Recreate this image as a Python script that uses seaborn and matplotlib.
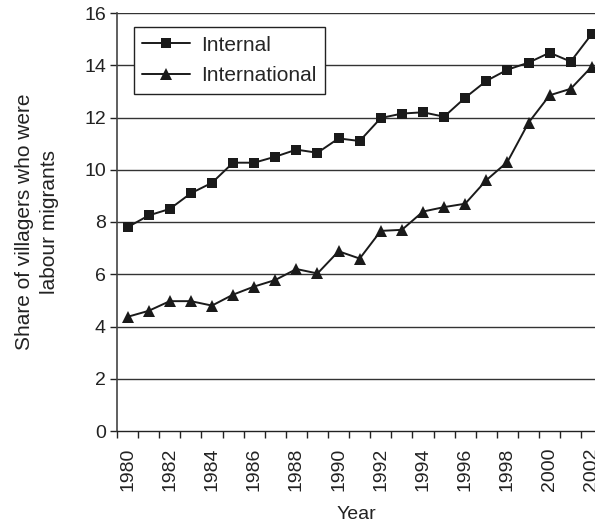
import pandas as pd
import seaborn as sns
import matplotlib.pyplot as plt
from matplotlib.ticker import MultipleLocator

# data
years = list(range(1980, 2003))
internal = [7.8, 8.25, 8.5, 9.1, 9.5, 10.27, 10.27, 10.5, 10.77, 10.65, 11.2, 11.1,
            11.98, 12.15, 12.2, 12.03, 12.76, 13.4, 13.83, 14.1, 14.48, 14.14, 15.2]
international = [4.37, 4.6, 4.97, 4.97, 4.8, 5.22, 5.53, 5.78, 6.2, 6.03, 6.88, 6.6,
                 7.66, 7.7, 8.4, 8.57, 8.7, 9.6, 10.3, 11.8, 12.85, 13.1, 13.95]
ytick_vals = list(range(0, 17, 2))
xtick_labels = [str(y) for y in range(1980, 2003, 2)]

df = pd.DataFrame({'year': years, 'Internal': internal, 'International': international})

sns.set_style('white')
plt.rcParams['font.family'] = ['Liberation Sans', 'DejaVu Sans']
fs = 14

fig = plt.figure(figsize=(5.95, 5.26), dpi=100)
ax = fig.add_axes([117/595, 95/526, 478/595, 418/526])

sns.lineplot(data=df, x='year', y='Internal', ax=ax, color='#1a1a1a', marker='s',
             markersize=7.5, linewidth=1.4, markeredgewidth=0, label='Internal', clip_on=False)
sns.lineplot(data=df, x='year', y='International', ax=ax, color='#1a1a1a', marker='^',
             markersize=9, linewidth=1.4, markeredgewidth=0, label='International', clip_on=False)

ax.set_xlim(1979.5, 2002.15)
ax.set_ylim(0, 16)
ax.set_yticks(ytick_vals)
ax.set_yticklabels([str(v) for v in ytick_vals], fontsize=fs, color='#222222')
ax.set_xticks(list(range(1980, 2003, 2)))
ax.set_xticklabels(xtick_labels, rotation=90, fontsize=fs, color='#222222')
ax.xaxis.set_minor_locator(MultipleLocator(1, offset=0.5))
ax.tick_params(axis='x', which='major', length=0, pad=12)
ax.tick_params(axis='x', which='minor', length=5, width=1, color='#222222', direction='out', bottom=True)
ax.tick_params(axis='y', which='major', length=5, width=1, color='#222222', direction='out', left=True, pad=3)

for v in ytick_vals[1:]:
    ax.axhline(v, color='#333333', linewidth=1, zorder=0)

for s in ['top', 'right']:
    ax.spines[s].set_visible(False)
ax.spines['left'].set_color('#444444')
ax.spines['left'].set_linewidth(1.2)
ax.spines['bottom'].set_color('#222222')
ax.spines['bottom'].set_linewidth(1)

ax.set_xlabel('Year', fontsize=fs, color='#222222', labelpad=11)
ax.set_ylabel('Share of villagers who were\nlabour migrants', fontsize=15, color='#222222',
              labelpad=18, linespacing=1.4)

leg = ax.legend(loc='upper left', bbox_to_anchor=(0.035, 0.967), fontsize=15,
                frameon=True, fancybox=False, edgecolor='#222222', framealpha=1,
                handlelength=2.3, borderpad=0.42, labelspacing=0.55, handletextpad=0.5,
                borderaxespad=0)
leg.get_frame().set_linewidth(1)

fig.savefig('out.png', dpi=100)
